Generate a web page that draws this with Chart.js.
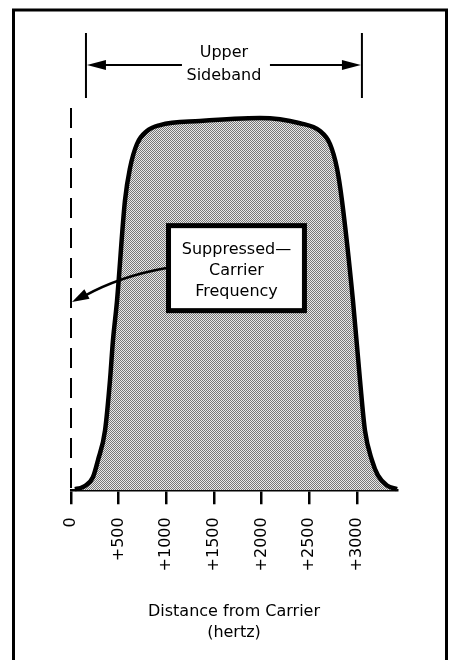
<!DOCTYPE html>
<html>
<head>
<meta charset="utf-8">
<title>Upper Sideband</title>
<script src="https://cdn.jsdelivr.net/npm/chart.js@4.4.1/dist/chart.umd.min.js"></script>
<style>
  html, body { margin: 0; padding: 0; background: #fff; }
  canvas { display: block; }
</style>
</head>
<body>
<canvas id="sidebandChart" width="451" height="660"></canvas>
<script>
// values: distance from carrier (Hz) vs relative level (%)
var freqHz = [40, 100, 150, 230, 283, 357, 409, 440, 483, 566, 619, 692, 797, 934, 1353, 1983, 2402, 2612, 2717, 2790, 2843, 2958, 3032, 3084, 3157, 3220, 3315, 3420];
var level = [0.3, 0.6, 1.2, 3.5, 8.1, 16.1, 29.6, 40.3, 51.1, 78, 86.8, 93.3, 96.8, 98.4, 99.5, 100.3, 98.9, 96.8, 93.3, 86.8, 78, 51.1, 29.6, 16.1, 8.1, 4.0, 1.3, 0.3];

// suppressed carrier marker (dashed line at 0 Hz)
var carrierHz = 0;
var carrierLevels = [103, 0];

var tickValues = [0, 500, 1000, 1500, 2000, 2500, 3000];
var tickLabels = ['0', '+500', '+1000', '+1500', '+2000', '+2500', '+3000'];

var FONT = "'DejaVu Sans', 'Noto Sans', sans-serif";

// halftone-like grey fill
function makeDither(ctx) {
    var c = document.createElement('canvas');
    c.width = 2; c.height = 2;
    var g = c.getContext('2d');
    g.fillStyle = '#e8e8e8';
    g.fillRect(0, 0, 2, 2);
    g.fillStyle = '#767676';
    g.fillRect(0, 0, 1, 1);
    g.fillRect(1, 1, 1, 1);
    return ctx.createPattern(c, 'repeat');
}

function arrowHead(ctx, tipX, tipY, dx, dy, len, half) {
    var l = Math.sqrt(dx * dx + dy * dy);
    var ux = dx / l, uy = dy / l;
    var bx = tipX - ux * len, by = tipY - uy * len;
    ctx.beginPath();
    ctx.moveTo(tipX, tipY);
    ctx.lineTo(bx - uy * half, by + ux * half);
    ctx.lineTo(bx + uy * half, by - ux * half);
    ctx.closePath();
    ctx.fill();
}

// labels, bracket, callout box and outer frame
var annotations = {
    id: 'annotations',
    afterDatasetsDraw: function (chart) {
        var ctx = chart.ctx, xs = chart.scales.x, ys = chart.scales.y;
        ctx.save();
        ctx.strokeStyle = '#000';
        ctx.fillStyle = '#000';

        // Upper sideband bracket
        var xl = xs.getPixelForValue(157), xr = xs.getPixelForValue(3052);
        var yTop = ys.getPixelForValue(123.2), yBot = ys.getPixelForValue(105.7);
        var yArr = ys.getPixelForValue(114.6);
        var xm = (xl + xr) / 2;
        ctx.lineWidth = 2;
        ctx.beginPath();
        ctx.moveTo(xl, yTop); ctx.lineTo(xl, yBot);
        ctx.moveTo(xr, yTop); ctx.lineTo(xr, yBot);
        ctx.moveTo(xl + 10, yArr); ctx.lineTo(xm - 42, yArr);
        ctx.moveTo(xm + 46, yArr); ctx.lineTo(xr - 10, yArr);
        ctx.stroke();
        arrowHead(ctx, xl + 1, yArr, -1, 0, 19, 5);
        arrowHead(ctx, xr - 1, yArr, 1, 0, 19, 5);

        ctx.font = '16px ' + FONT;
        ctx.textAlign = 'center';
        ctx.textBaseline = 'middle';
        ctx.fillText('Upper', xm, yArr - 12);
        ctx.fillText('Sideband', xm, yArr + 11);

        // callout box
        var bl = xs.getPixelForValue(1023), br = xs.getPixelForValue(2449);
        var bt = ys.getPixelForValue(71.3), bb = ys.getPixelForValue(48.4);
        ctx.fillStyle = '#fff';
        ctx.fillRect(bl, bt, br - bl, bb - bt);
        ctx.lineWidth = 5;
        ctx.strokeRect(bl, bt, br - bl, bb - bt);
        ctx.fillStyle = '#000';
        var bc = (bl + br) / 2, bm = (bt + bb) / 2 + 3;
        ctx.fillText('Suppressed\u2014', bc, bm - 21);
        ctx.fillText('Carrier', bc, bm);
        ctx.fillText('Frequency', bc, bm + 21);

        // curved pointer to the carrier line
        var sx = bl - 2, sy = ys.getPixelForValue(59.9);
        var cx = xs.getPixelForValue(514), cy = ys.getPixelForValue(57.7);
        var tx = xs.getPixelForValue(carrierHz) + 1, ty = ys.getPixelForValue(50.7);
        ctx.lineWidth = 2.5;
        ctx.beginPath();
        ctx.moveTo(sx, sy);
        ctx.quadraticCurveTo(cx, cy, tx + 12, ty - 6);
        ctx.stroke();
        arrowHead(ctx, tx, ty, tx - cx, ty - cy, 17, 5.5);

        // outer frame
        ctx.lineWidth = 3;
        ctx.strokeRect(13.5, 10, 433, 700);
        ctx.restore();
    }
};

var canvas = document.getElementById('sidebandChart');
var fillPattern = makeDither(canvas.getContext('2d'));

var points = freqHz.map(function (f, i) { return { x: f, y: level[i] }; });
var carrierPoints = carrierLevels.map(function (v) { return { x: carrierHz, y: v }; });

new Chart(canvas, {
    type: 'line',
    data: {
        datasets: [{
            label: 'Upper sideband',
            data: points,
            borderColor: '#000',
            borderWidth: 4.5,
            backgroundColor: fillPattern,
            fill: 'origin',
            cubicInterpolationMode: 'monotone',
            pointRadius: 0,
            clip: false
        }, {
            label: 'Carrier',
            data: carrierPoints,
            borderColor: '#000',
            borderWidth: 2,
            borderDash: [20, 10],
            fill: false,
            pointRadius: 0,
            clip: false
        }]
    },
    options: {
        responsive: false,
        animation: false,
        events: [],
        layout: { padding: { left: 71, right: 54, top: 108, bottom: 17 } },
        plugins: {
            legend: { display: false },
            tooltip: { enabled: false }
        },
        scales: {
            x: {
                type: 'linear',
                min: 0,
                max: 3420,
                afterBuildTicks: function (scale) {
                    scale.ticks = tickValues.map(function (v) { return { value: v }; });
                },
                grid: { drawOnChartArea: false, color: '#000', lineWidth: 2.5, tickLength: 14 },
                border: { display: true, color: '#000', width: 2.5 },
                ticks: {
                    autoSkip: false,
                    minRotation: 90,
                    maxRotation: 90,
                    padding: 13,
                    color: '#000',
                    font: { family: FONT, size: 16 },
                    callback: function (value, index) { return tickLabels[index]; }
                },
                title: {
                    display: true,
                    text: ['Distance from Carrier', '(hertz)'],
                    color: '#000',
                    font: { family: FONT, size: 16, lineHeight: 1.3 },
                    padding: { top: 17, bottom: 0 }
                }
            },
            y: {
                type: 'linear',
                display: false,
                min: 0,
                max: 103
            }
        }
    },
    plugins: [annotations]
});
</script>
</body>
</html>
